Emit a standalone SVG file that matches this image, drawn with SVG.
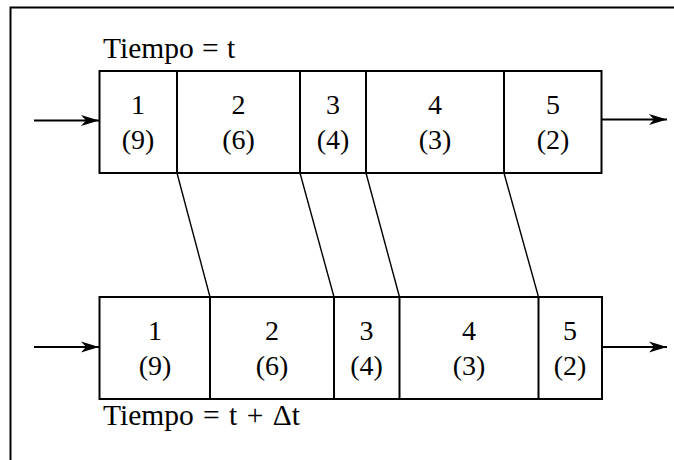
<svg xmlns="http://www.w3.org/2000/svg" width="674" height="460" viewBox="0 0 674 460">
<style>
.box{fill:#fff;stroke:#000;stroke-width:2}
.div{stroke:#000;stroke-width:2;fill:none}
.lnk{stroke:#000;stroke-width:1.4;fill:none}
.arr{stroke:#000;stroke-width:2;fill:none;marker-end:url(#ah)}
text{font-size:28px;fill:#000}
.c{text-anchor:middle}
.lbl{font-size:29.5px}
</style>
<defs>
<marker id="ah" markerUnits="userSpaceOnUse" markerWidth="20" markerHeight="14" refX="18" refY="7" orient="auto">
<path d="M0,1.5 L18,7 L0,12.5 L5,7 Z" fill="#000"/>
</marker>
</defs>
<g font-family="Liberation Serif, Times New Roman, serif">
<path d="M10.5,470 V7.5 H690" fill="none" stroke="#000" stroke-width="2"/>
<text class="lbl" x="103" y="58" word-spacing="1">Tiempo = t</text>
<text class="lbl" x="103" y="425" word-spacing="2">Tiempo = t + Δt</text>
<g id="connectors">
<line class="arr" x1="34" y1="120.5" x2="99" y2="120.5"/>
<line class="arr" x1="602" y1="119.5" x2="667" y2="119.5"/>
<line class="arr" x1="34" y1="347" x2="99" y2="347"/>
<line class="arr" x1="602" y1="347" x2="667" y2="347"/>
<line class="lnk" x1="177" y1="173" x2="210" y2="297"/>
<line class="lnk" x1="300" y1="173" x2="334" y2="297"/>
<line class="lnk" x1="366" y1="173" x2="399.5" y2="297"/>
<line class="lnk" x1="504" y1="173" x2="538.5" y2="297"/>
</g>
<g id="row-t">
<rect class="box" x="99.5" y="71" width="502" height="102"/>
<g id="t1"><line class="div" x1="177" y1="71" x2="177" y2="173"/><text class="c" x="138" y="114">1</text><text class="c" x="138" y="149">(9)</text></g>
<g id="t2"><line class="div" x1="300" y1="71" x2="300" y2="173"/><text class="c" x="238.5" y="114">2</text><text class="c" x="238.5" y="149">(6)</text></g>
<g id="t3"><line class="div" x1="366" y1="71" x2="366" y2="173"/><text class="c" x="333" y="114">3</text><text class="c" x="333" y="149">(4)</text></g>
<g id="t4"><line class="div" x1="504" y1="71" x2="504" y2="173"/><text class="c" x="435" y="114">4</text><text class="c" x="435" y="149">(3)</text></g>
<g id="t5"><text class="c" x="553" y="114">5</text><text class="c" x="553" y="149">(2)</text></g>
</g>
<g id="row-tdt">
<rect class="box" x="99.5" y="297" width="502.5" height="102"/>
<g id="b1"><line class="div" x1="210" y1="297" x2="210" y2="399"/><text class="c" x="155" y="340">1</text><text class="c" x="155" y="375">(9)</text></g>
<g id="b2"><line class="div" x1="334" y1="297" x2="334" y2="399"/><text class="c" x="272" y="340">2</text><text class="c" x="272" y="375">(6)</text></g>
<g id="b3"><line class="div" x1="399.5" y1="297" x2="399.5" y2="399"/><text class="c" x="366.5" y="340">3</text><text class="c" x="366.5" y="375">(4)</text></g>
<g id="b4"><line class="div" x1="538.5" y1="297" x2="538.5" y2="399"/><text class="c" x="469" y="340">4</text><text class="c" x="469" y="375">(3)</text></g>
<g id="b5"><text class="c" x="570" y="340">5</text><text class="c" x="570" y="375">(2)</text></g>
</g>
</g>
</svg>
